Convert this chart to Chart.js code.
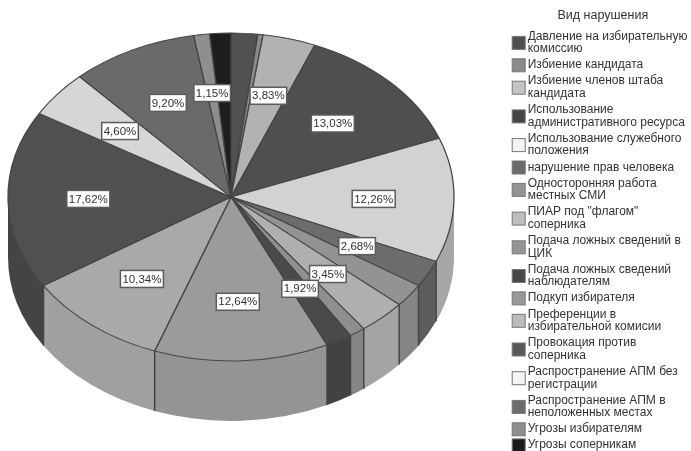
<!DOCTYPE html>
<html>
<head>
<meta charset="utf-8">
<script src="https://cdn.jsdelivr.net/npm/chart.js@4/dist/chart.umd.min.js"></script>
<style>
  body { margin: 0; background: #fff; }
  canvas { display: block; filter: blur(0.35px); }
</style>
</head>
<body>
<canvas id="chart" width="691" height="451"></canvas>
<script>
const categories = [
    ["Давление на избирательную", "комиссию"],
    ["Избиение кандидата"],
    ["Избиение членов штаба", "кандидата"],
    ["Использование", "административного ресурса"],
    ["Использование служебного", "положения"],
    ["нарушение прав человека"],
    ["Односторонняя работа", "местных СМИ"],
    ["ПИАР под \"флагом\"", "соперника"],
    ["Подача ложных сведений в", "ЦИК"],
    ["Подача ложных сведений", "наблюдателям"],
    ["Подкуп избирателя"],
    ["Преференции в", "избирательной комиcии"],
    ["Провокация против", "соперника"],
    ["Распространение АПМ без", "регистрации"],
    ["Распространение АПМ в", "неположенных местах"],
    ["Угрозы избирателям"],
    ["Угрозы соперникам"]
];
const percents = [1.92, 0.38, 3.83, 13.03, 12.26, 2.68, 2.30, 3.45, 1.15, 1.92, 12.64, 10.34, 17.62, 4.60, 9.20, 1.15, 1.53];
const shownLabels = [2, 3, 4, 5, 7, 9, 10, 11, 12, 13, 14, 15];

const topColors = ["#515151", "#8a8a8a", "#b2b2b2", "#4f4f4f", "#d2d2d2", "#6c6c6c", "#939393", "#afafaf", "#8f8f8f", "#4a4a4a", "#9b9b9b", "#a9a9a9", "#505050", "#d6d6d6", "#6a6a6a", "#8e8e8e", "#1d1d1d"];
const sideColors = ["#444", "#777", "#a0a0a0", "#444", "#a6a6a6", "#5c5c5c", "#858585", "#a4a4a4", "#858585", "#424242", "#949494", "#a0a0a0", "#444", "#bbb", "#5c5c5c", "#808080", "#1a1a1a"];
const swatchColors = ["#4f4f4f", "#8a8a8a", "#c4c4c4", "#454545", "#f4f4f4", "#6a6a6a", "#949494", "#bdbdbd", "#959595", "#484848", "#989898", "#bbb", "#585858", "#f4f4f4", "#6c6c6c", "#8e8e8e", "#1a1a1a"];

// where the tilted pie sits on the page
const pieX = 231, pieY = 197, pieRadius = 223, tilt = 0.735, depth = 60, labelRadius = 0.64;

const tiltPlugin = {
    id: "tilt",
    beforeDatasetDraw(chart) {
        const ctx = chart.ctx;
        const arcs = chart.getDatasetMeta(0).data;
        const R = arcs[0].outerRadius;
        // side wall, only the front half of the pie shows it
        ctx.save();
        arcs.forEach((arc, i) => {
            const a0 = Math.max(arc.startAngle, 0);
            const a1 = Math.min(arc.endAngle, Math.PI);
            if (a1 <= a0) return;
            ctx.beginPath();
            ctx.ellipse(pieX, pieY, R, R * tilt, 0, a0, a1);
            ctx.ellipse(pieX, pieY + depth, R, R * tilt, 0, a1, a0, true);
            ctx.closePath();
            ctx.fillStyle = sideColors[i];
            ctx.fill();
        });
        // dark joints between the wall pieces
        ctx.strokeStyle = "#444";
        ctx.lineWidth = 1.5;
        arcs.forEach(arc => {
            if (arc.startAngle <= 0 || arc.startAngle >= Math.PI) return;
            const x = pieX + Math.cos(arc.startAngle) * R;
            const y = pieY + Math.sin(arc.startAngle) * R * tilt;
            ctx.beginPath();
            ctx.moveTo(x, y);
            ctx.lineTo(x, y + depth);
            ctx.stroke();
        });
        ctx.restore();
        ctx.save();
        ctx.translate(pieX, pieY);
        ctx.scale(1, tilt);
        ctx.translate(-arcs[0].x, -arcs[0].y);
    },
    afterDatasetDraw(chart) {
        chart.ctx.restore();
    },
    afterDraw(chart) {
        const ctx = chart.ctx;
        const arcs = chart.getDatasetMeta(0).data;
        // percent boxes
        ctx.save();
        ctx.font = "11.5px 'Liberation Sans'";
        ctx.textAlign = "center";
        ctx.textBaseline = "middle";
        shownLabels.forEach(i => {
            const arc = arcs[i];
            const mid = (arc.startAngle + arc.endAngle) / 2;
            const x = pieX + Math.cos(mid) * arc.outerRadius * labelRadius;
            const y = pieY + Math.sin(mid) * arc.outerRadius * labelRadius * tilt;
            const text = percents[i].toFixed(2).replace(".", ",") + "%";
            const w = ctx.measureText(text).width + 4;
            ctx.fillStyle = "#fff";
            ctx.strokeStyle = "#5c5c5c";
            ctx.lineWidth = 1.5;
            ctx.fillRect(x - w / 2, y - 8.5, w, 17);
            ctx.strokeRect(x - w / 2, y - 8.5, w, 17);
            ctx.fillStyle = "#333";
            ctx.fillText(text, x, y + 0.5);
        });
        // legend swatches, centred on their two line entries
        chart.legend.legendHitBoxes.forEach((box, i) => {
            const y = box.top + box.height / 2 - 6.5;
            ctx.fillStyle = swatchColors[i];
            ctx.strokeStyle = "#777";
            ctx.lineWidth = 1;
            ctx.fillRect(box.left + 0.5, y, 13, 13);
            ctx.strokeRect(box.left + 0.5, y, 13, 13);
        });
        ctx.restore();
    }
};

new Chart(document.getElementById("chart"), {
    type: "pie",
    data: {
        labels: categories,
        datasets: [{
            data: percents,
            backgroundColor: topColors,
            borderColor: "#444",
            borderWidth: 1.3,
            clip: false
        }]
    },
    options: {
        responsive: false,
        animation: false,
        devicePixelRatio: 1,
        radius: pieRadius,
        layout: { padding: { top: 2, bottom: -8, right: -6.5 } },
        plugins: {
            tooltip: { enabled: false },
            legend: {
                position: "right",
                align: "start",
                title: {
                    display: true,
                    text: "Вид нарушения",
                    color: "#333",
                    font: { family: "'Liberation Sans'", size: 12.5, lineHeight: 1.104 },
                    padding: { top: 7, bottom: 4 }
                },
                labels: {
                    boxWidth: 10,
                    boxHeight: 10,
                    padding: 3.5,
                    color: "#333",
                    font: { family: "'Liberation Sans'", size: 12, lineHeight: 1.05 },
                    generateLabels(chart) {
                        const items = Chart.overrides.pie.plugins.legend.labels.generateLabels(chart);
                        items.forEach(item => {
                            item.fillStyle = "transparent";
                            item.strokeStyle = "transparent";
                        });
                        return items;
                    }
                }
            }
        }
    },
    plugins: [tiltPlugin]
});
</script>
</body>
</html>
